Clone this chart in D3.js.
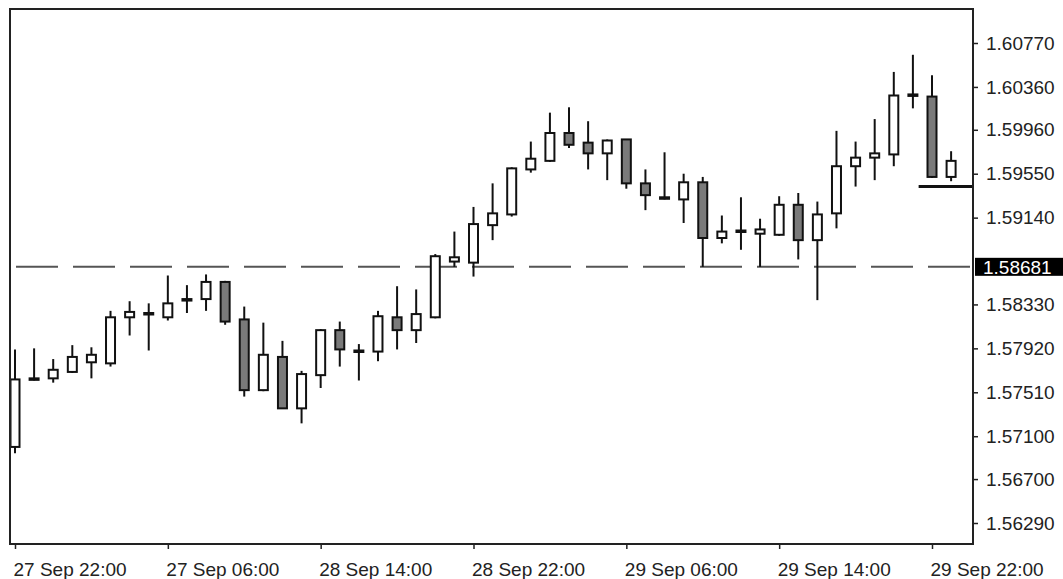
<!DOCTYPE html>
<html><head><meta charset="utf-8">
<script src="https://cdn.jsdelivr.net/npm/d3@7"></script>
<style>
html,body{margin:0;padding:0;background:#fff;}
svg{display:block;}
text{font-family:"Liberation Sans",Arial,sans-serif;fill:#222;}
</style></head>
<body>
<svg id="chart" width="1063" height="579"></svg>
<script>
// ---- data ----
const opens  = [1.5700,1.5764,1.5764,1.5770,1.5779,1.5778,1.5821,1.5825,1.5821,1.5838,
                1.5838,1.5854,1.5819,1.5753,1.5784,1.5736,1.5767,1.5809,1.5790,1.5789,
                1.5821,1.5809,1.5821,1.5873,1.5872,1.5907,1.5917,1.5959,1.5967,1.5993,
                1.5984,1.5974,1.5987,1.5946,1.5933,1.5931,1.5947,1.5895,1.5902,1.5899,
                1.5898,1.5926,1.5893,1.5918,1.5962,1.5970,1.5973,1.6029,1.6027,1.5952];
const highs  = [1.5791,1.5792,1.5782,1.5795,1.5793,1.5827,1.5836,1.5834,1.5860,1.5851,
                1.5861,1.5855,1.5831,1.5816,1.5799,1.5771,1.5810,1.5817,1.5796,1.5827,
                1.5850,1.5847,1.5880,1.5901,1.5924,1.5946,1.5961,1.5985,1.6012,1.6017,
                1.6004,1.5987,1.5987,1.5959,1.5975,1.5955,1.5952,1.5916,1.5933,1.5913,
                1.5934,1.5937,1.5929,1.5995,1.5985,1.6006,1.6050,1.6066,1.6047,1.5976];
const lows   = [1.5694,1.5762,1.5760,1.5769,1.5764,1.5775,1.5804,1.5790,1.5818,1.5825,
                1.5827,1.5814,1.5747,1.5752,1.5736,1.5722,1.5755,1.5775,1.5762,1.5780,
                1.5791,1.5797,1.5820,1.5868,1.5859,1.5893,1.5915,1.5956,1.5966,1.5979,
                1.5959,1.5949,1.5941,1.5921,1.5931,1.5909,1.5868,1.5890,1.5884,1.5868,
                1.5897,1.5875,1.5837,1.5904,1.5943,1.5949,1.5962,1.6016,1.5951,1.5948];
const closes = [1.5763,1.5763,1.5772,1.5784,1.5786,1.5821,1.5826,1.5825,1.5834,1.5838,
                1.5854,1.5817,1.5753,1.5786,1.5736,1.5768,1.5809,1.5791,1.5790,1.5822,
                1.5809,1.5824,1.5878,1.5877,1.5908,1.5918,1.5960,1.5969,1.5993,1.5982,
                1.5974,1.5986,1.5946,1.5935,1.5933,1.5947,1.5895,1.5901,1.5902,1.5903,
                1.5926,1.5893,1.5917,1.5962,1.5970,1.5974,1.6028,1.6028,1.5952,1.5967];
const priceTicks = [1.60770,1.60360,1.59960,1.59550,1.59140,1.58330,1.57920,1.57510,1.57100,1.56700,1.56290];
const timeLabels = ["27 Sep 22:00","27 Sep 06:00","28 Sep 14:00","28 Sep 22:00","29 Sep 06:00","29 Sep 14:00","29 Sep 22:00"];
const timeLabelIndex = [0,8,16,24,32,40,48];
const levelLine = 1.58681;     // dashed horizontal level
const levelLabel = "1.58681";
const closeLine = 1.5943;      // short solid line at right
const closeLineFrom = 47.3;    // candle index where it starts

// ---- layout ----
const svg = d3.select("#chart");
const L = 10, T = 9, R = 973, B = 544;
const x = d3.scaleLinear().domain([0, 48]).range([15, 932]);
const y = d3.scaleLinear().domain([1.56290, 1.60770]).range([523, 43]);

const candles = opens.map((o, i) => ({i, o, h: highs[i], l: lows[i], c: closes[i]}));

// dashed level line
svg.append("line")
  .attr("x1", L).attr("x2", R)
  .attr("y1", y(levelLine)).attr("y2", y(levelLine))
  .attr("stroke", "#555").attr("stroke-width", 2)
  .attr("stroke-dasharray", "42 15").attr("stroke-dashoffset", -6);

// wicks
const g = svg.append("g");
g.selectAll("line.wick").data(candles).join("line")
  .attr("class", "wick")
  .attr("x1", d => x(d.i)).attr("x2", d => x(d.i))
  .attr("y1", d => y(d.h)).attr("y2", d => y(d.l))
  .attr("stroke", "#111").attr("stroke-width", 2);

// bodies
const bw = 9;
g.selectAll("rect.body").data(candles).join("rect")
  .attr("class", "body")
  .attr("x", d => x(d.i) - bw / 2)
  .attr("width", bw)
  .attr("y", d => y(Math.max(d.o, d.c)))
  .attr("height", d => Math.max(1.5, Math.abs(y(d.o) - y(d.c))))
  .attr("fill", d => d.c < d.o ? "#7a7a7a" : "#fff")
  .attr("stroke", "#111").attr("stroke-width", 2);

// short solid line at right
svg.append("line")
  .attr("x1", x(closeLineFrom)).attr("x2", R)
  .attr("y1", y(closeLine)).attr("y2", y(closeLine))
  .attr("stroke", "#111").attr("stroke-width", 3);

// frame
svg.append("rect")
  .attr("x", L).attr("y", T).attr("width", R - L).attr("height", B - T)
  .attr("fill", "none").attr("stroke", "#222").attr("stroke-width", 2);

// right axis
const yAxis = d3.axisRight(y).tickValues(priceTicks).tickSize(5).tickPadding(8)
  .tickFormat(d3.format(".5f"));
const ya = svg.append("g").attr("transform", `translate(${R},0)`).call(yAxis);
ya.select(".domain").remove();
ya.selectAll(".tick line").attr("stroke", "#222").attr("stroke-width", 1.5);
ya.selectAll(".tick text").attr("font-size", 19).attr("fill", "#222")
  .attr("font-family", "Liberation Sans, Arial, sans-serif");

// level label box
const ly = y(levelLine);
svg.append("rect").attr("x", R + 2).attr("y", ly - 9).attr("width", 1063 - R - 2).attr("height", 18)
  .attr("fill", "#000");
svg.append("text").attr("x", R + 10).attr("y", ly + 7).attr("font-size", 19)
  .style("fill", "#fff").text(levelLabel);

// bottom axis
const xAxis = d3.axisBottom(x).tickValues(timeLabelIndex).tickSize(5).tickPadding(14)
  .tickFormat((d, k) => timeLabels[k]);
const xa = svg.append("g").attr("transform", `translate(0,${B})`).call(xAxis);
xa.select(".domain").remove();
xa.selectAll(".tick line").attr("stroke", "#222").attr("stroke-width", 1.5);
xa.selectAll(".tick text").attr("font-size", 19).attr("fill", "#222")
  .attr("text-anchor", "start").attr("dx", -2)
  .attr("font-family", "Liberation Sans, Arial, sans-serif");
</script>
</body></html>
